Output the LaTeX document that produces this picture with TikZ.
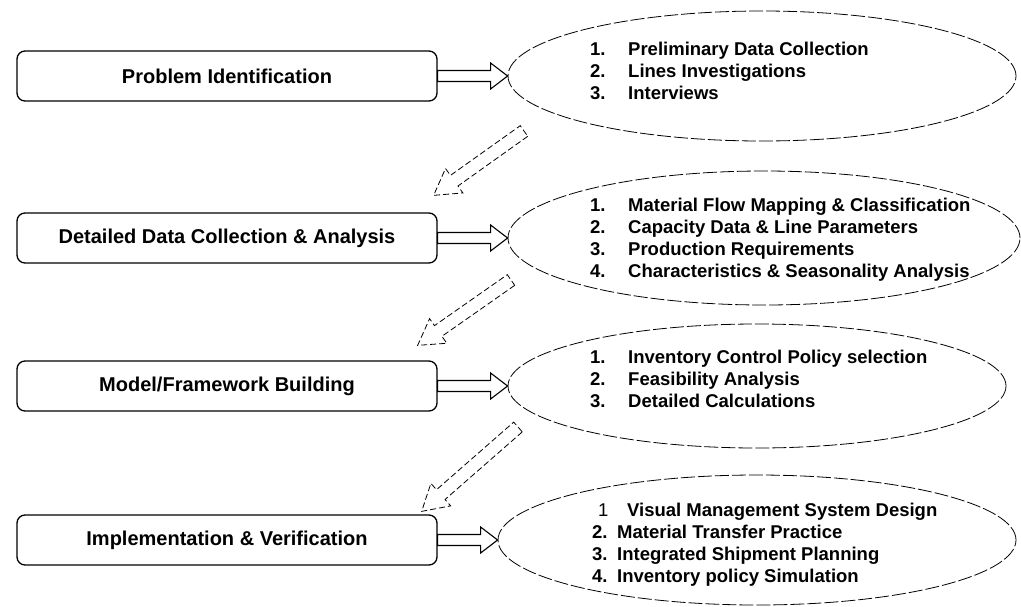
\documentclass[tikz,border=0pt]{standalone}
\usepackage{fontspec}
\setmainfont{Liberation Sans}
\usetikzlibrary{shapes.geometric,calc}
% hollow block arrow: #1 style, #2 from, #3 to, #4 shaft half width, #5 head half width, #6 head length
\newcommand\hollowarrow[6]{%
  \path[#1] let \p1=(#2), \p2=(#3),
    \n1={atan2(\y2-\y1,\x2-\x1)},
    \n2={veclen(\x2-\x1,\y2-\y1)-#6} in
    ($(\p1)+(\n1+90:#4)$) -- ($(\p1)+(\n1:\n2)+(\n1+90:#4)$) --
    ($(\p1)+(\n1:\n2)+(\n1+90:#5)$) -- (\p2) --
    ($(\p1)+(\n1:\n2)+(\n1-90:#5)$) -- ($(\p1)+(\n1:\n2)+(\n1-90:#4)$) --
    ($(\p1)+(\n1-90:#4)$) -- cycle;}
\begin{document}
\begin{tikzpicture}[x=1pt,y=1pt,
  stepbox/.style={draw, line width=1.3pt, rounded corners=8pt, minimum width=420pt,
    minimum height=50pt, inner sep=0pt, font=\bfseries\fontsize{20}{24}\selectfont},
  ell/.style={draw, ellipse, inner sep=0pt, line width=0.8pt, dash pattern=on 14pt off 3pt},
  items/.style={anchor=west, inner sep=0pt, align=left, font=\bfseries\fontsize{18.5}{22}\selectfont},
  flowarrow/.style={draw, line width=1.1pt},
  diagarrow/.style={draw, line width=0.8pt, dash pattern=on 6pt off 3pt}]
\useasboundingbox (0,0) rectangle (1021,-606);
\newcommand\nb[1]{\makebox[38pt][l]{#1}}
\newcommand\nc[1]{\makebox[25pt][l]{#1}}

% ellipses
\node[ell, minimum width=508pt, minimum height=130pt] (e1) at (762,-76) {};
\node[ell, minimum width=512pt, minimum height=134pt] (e2) at (764,-238) {};
\node[ell, minimum width=498pt, minimum height=124pt] (e3) at (757,-386) {};
\node[ell, minimum width=518pt, minimum height=130pt] (e4) at (757,-540) {};

% boxes
\node[stepbox] (b1) at (227,-76) {Problem Identification};
\node[stepbox] (b2) at (227,-238) {Detailed Data Collection \& Analysis};
\node[stepbox] (b3) at (227,-386) {Model/Framework Building};
\node[stepbox] (b4) at (227,-540) {Implementation \& Verification};

% item lists
\node[items] (l1) at (590,-71) {\nb{1.}Preliminary Data Collection\\\nb{2.}Lines Investigations\\\nb{3.}Interviews};
\node[items] (l2) at (590,-240) {\nb{1.}Material Flow Mapping \& Classification\\\nb{2.}Capacity Data \& Line Parameters\\\nb{3.}Production Requirements\\\nb{4.}Characteristics \& Seasonality Analysis};
\node[items] (l3) at (590,-379) {\nb{1.}Inventory Control Policy selection\\\nb{2.}Feasibility Analysis\\\nb{3.}Detailed Calculations};
\node[items] (l4) at (592,-545) {\nc{\hspace{6pt}\mdseries 1}\hspace{10pt}Visual Management System Design\\\nc{2.}Material Transfer Practice\\\nc{3.}Integrated Shipment Planning\\\nc{4.}Inventory policy Simulation};

% horizontal block arrows
\hollowarrow{flowarrow}{b1.east}{e1.west}{5.5pt}{13pt}{17pt}
\hollowarrow{flowarrow}{b2.east}{e2.west}{5.5pt}{13pt}{17pt}
\hollowarrow{flowarrow}{b3.east}{e3.west}{5.5pt}{13pt}{17pt}
\hollowarrow{flowarrow}{b4.east}{e4.west}{5.5pt}{13pt}{17pt}

% diagonal dashed block arrows
\coordinate (t1) at (524,-131);
\coordinate (t2) at (511,-280);
\coordinate (t3) at (518,-427);
\coordinate (h1) at ($(b2.north east)+(-4,17)$);
\coordinate (h2) at ($(b3.north east)+(-20,15)$);
\coordinate (h3) at ($(b4.north east)+(-16,3)$);
\hollowarrow{diagarrow}{t1}{h1}{6.5pt}{15pt}{25pt}
\hollowarrow{diagarrow}{t2}{h2}{6.5pt}{15pt}{25pt}
\hollowarrow{diagarrow}{t3}{h3}{6.5pt}{15pt}{25pt}
\end{tikzpicture}
\end{document}
